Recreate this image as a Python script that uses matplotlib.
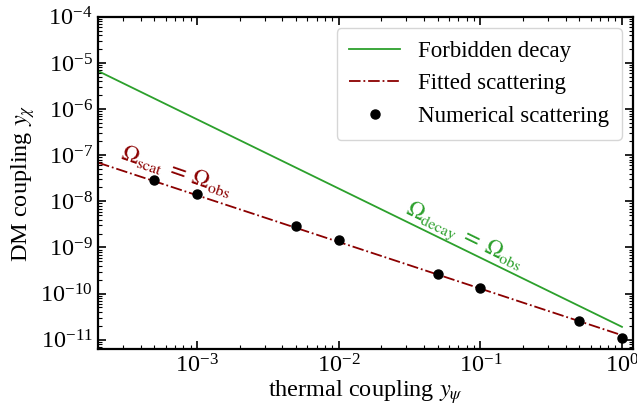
import numpy as np
import matplotlib
matplotlib.use("Agg")
import matplotlib.pyplot as plt
from matplotlib.ticker import LogLocator, NullFormatter

plt.rcParams['font.family'] = ['Liberation Serif', 'DejaVu Serif']
plt.rcParams['mathtext.fontset'] = 'stix'

# Data
decay_x = [2e-4, 1.0]
decay_y = [6.7e-6, 1.9e-11]
fit_x = [2e-4, 1.0]
fit_y = [6.9e-8, 1.25e-11]
num_x = [5e-4, 1e-3, 5e-3, 1e-2, 5e-2, 1e-1, 5e-1, 1.0]
num_y = [2.85e-8, 1.44e-8, 2.88e-9, 1.42e-9, 2.7e-10, 1.33e-10, 2.5e-11, 1.1e-11]

fig = plt.figure(figsize=(6.37, 4.12), dpi=100)
ax = fig.add_axes([0.154, 0.153, 0.840, 0.806])

ax.plot(decay_x, decay_y, color='#2ca02c', lw=1.3, label='Forbidden decay')
ax.plot(fit_x, fit_y, color='#8b0000', lw=1.3, ls='-.', label='Fitted scattering')
ax.plot(num_x, num_y, 'o', color='black', ms=6.5, ls='none', label='Numerical scattering', zorder=3)

ax.set_xscale('log')
ax.set_yscale('log')
ax.set_xlim(2e-4, 1.2)
ax.set_ylim(6.3e-12, 1e-4)

ax.yaxis.set_major_locator(LogLocator(base=10, numticks=20))
ax.yaxis.set_minor_locator(LogLocator(base=10, subs=np.arange(2, 10), numticks=20))
ax.yaxis.set_minor_formatter(NullFormatter())
ax.xaxis.set_minor_locator(LogLocator(base=10, subs=np.arange(2, 10), numticks=20))
ax.xaxis.set_minor_formatter(NullFormatter())

ax.tick_params(which='both', direction='in', top=True, right=True, labelsize=17.5)
ax.tick_params(which='major', length=6, width=1.2, pad=4)
ax.tick_params(which='minor', length=3, width=0.8)
for s in ax.spines.values():
    s.set_linewidth(1.6)

ax.set_xlabel(r'thermal coupling $y_\psi$', fontsize=17.5, labelpad=0)
ax.set_ylabel(r'DM coupling $y_\chi$', fontsize=17.5, labelpad=2)

ax.text(7.1e-4, 4.6e-8, r'$\Omega_{\rm scat}\;=\;\Omega_{\rm obs}$', color='#8b0000',
        fontsize=16.5, rotation=-19, ha='center', va='center')
ax.text(0.077, 1.7e-9, r'$\Omega_{\rm decay}\;=\;\Omega_{\rm obs}$', color='#2ca02c',
        fontsize=16.5, rotation=-26, ha='center', va='center')

leg = ax.legend(loc='upper right', fontsize=16.5, frameon=True, fancybox=True,
                handlelength=2.2, borderpad=0.55, labelspacing=0.5)
leg.get_frame().set_edgecolor('#cccccc')

fig.savefig('out.png', dpi=100)
